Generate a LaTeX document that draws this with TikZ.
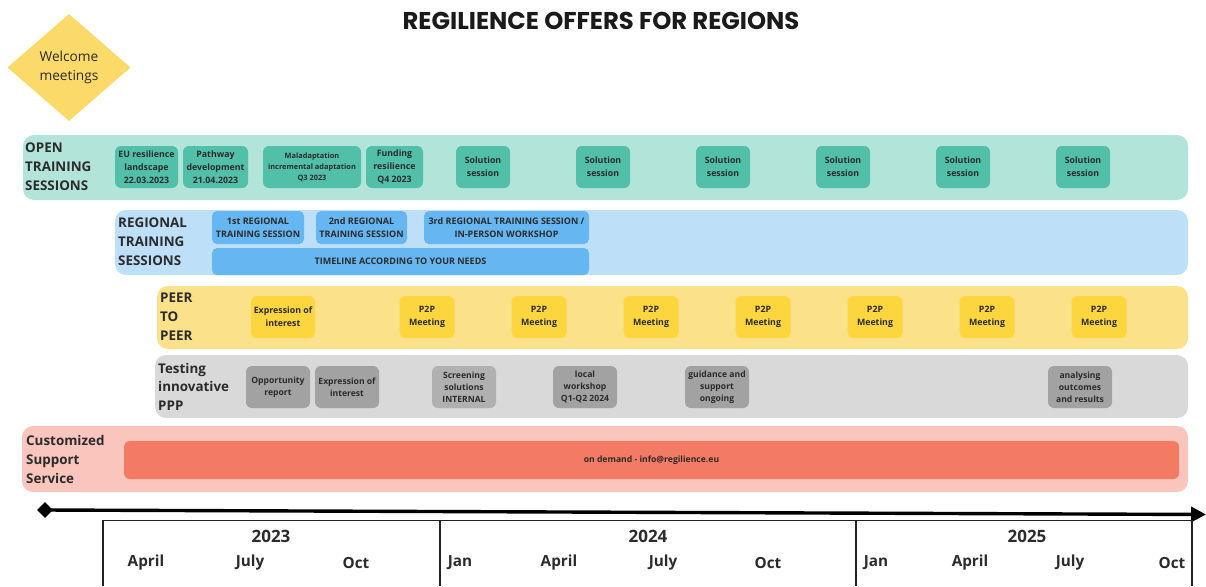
\documentclass[tikz,border=0pt]{standalone}
\usepackage{fontspec}
\setmainfont{Open Sans}
\newfontfamily\titlefont{Poppins}
\usetikzlibrary{shapes.geometric,arrows.meta}
\definecolor{txt}{HTML}{2B2B2B}
\definecolor{openband}{HTML}{B3E4D9}
\definecolor{openbox}{HTML}{52BFA8}
\definecolor{regband}{HTML}{BDE0F8}
\definecolor{regbox}{HTML}{66B6F1}
\definecolor{peerband}{HTML}{FBE28A}
\definecolor{peerbox}{HTML}{FCD53F}
\definecolor{testband}{HTML}{D9D9D9}
\definecolor{testbox}{HTML}{A2A2A2}
\definecolor{custband}{HTML}{F9C5BC}
\definecolor{custbar}{HTML}{F47B63}
\definecolor{welcome}{HTML}{FCDA6A}
\begin{document}
\begin{tikzpicture}[x=1pt,y=-1pt,
  band/.style={rounded corners=11pt, inner sep=0pt, draw=none},
  tbox/.style={rounded corners=6pt, inner sep=0pt, align=center, text=txt,
    font=\bfseries\fontsize{8.8}{13}\selectfont, minimum height=42pt},
  rowlabel/.style={anchor=west, align=left, inner sep=0pt, text=txt,
    font=\bfseries\fontsize{13.4}{19}\selectfont},
  month/.style={text=txt, inner sep=0pt, font=\bfseries\fontsize{15.3}{18}\selectfont},
  year/.style={text=txt, inner sep=0pt, font=\bfseries\fontsize{17}{20}\selectfont},
  tl/.style={line width=1.8pt, draw=txt!80!black}
]
\useasboundingbox (0,0) rectangle (1206,586);
% title
\node[text=txt!60!black, font=\titlefont\bfseries\fontsize{24.3}{28}\selectfont] (title) at (601,21) {REGILIENCE OFFERS FOR REGIONS};
% welcome diamond
\node[diamond, fill=welcome, inner sep=0pt, minimum width=123pt, minimum height=107pt, align=center,
  text=txt, font=\fontsize{13.7}{19}\selectfont] (welcome) at (69,67.5) {Welcome\\meetings};

% OPEN TRAINING SESSIONS
\node[band, fill=openband, minimum width=1165pt, minimum height=65pt] (open) at (605.5,167.5) {};
\node[rowlabel] (openlbl) at (25,167) {OPEN\\TRAINING\\SESSIONS};
\node[tbox, fill=openbox, minimum width=63pt] (eu) at (146.5,167) {EU resilience\\landscape\\22.03.2023};
\node[tbox, fill=openbox, minimum width=65pt] (path) at (215.5,167) {Pathway\\development\\21.04.2023};
\node[tbox, fill=openbox, minimum width=98pt, font=\bfseries\fontsize{7.4}{11}\selectfont] (mal) at (312,167) {Maladaptation\\incremental adaptation\\Q3 2023};
\node[tbox, fill=openbox, minimum width=57pt] (fund) at (394.5,167) {Funding\\resilience\\Q4 2023};
\foreach \cx [count=\i] in {483,603,723,843,963,1083}
  \node[tbox, fill=openbox, minimum width=54pt] (sol\i) at (\cx,167) {Solution\\session};

% REGIONAL TRAINING SESSIONS
\node[band, fill=regband, minimum width=1073pt, minimum height=65pt] (reg) at (651.5,242.5) {};
\node[rowlabel] (reglbl) at (118,242) {REGIONAL\\TRAINING\\SESSIONS};
\tikzset{rbox/.style={tbox, fill=regbox, minimum height=33pt, rounded corners=5pt, font=\bfseries\fontsize{9}{13}\selectfont}}
\node[rbox, minimum width=92pt] (r1) at (258,227.5) {1st REGIONAL\\TRAINING SESSION};
\node[rbox, minimum width=91pt] (r2) at (361.5,227.5) {2nd REGIONAL\\TRAINING SESSION};
\node[rbox, minimum width=165pt] (r3) at (506.5,227.5) {3rd REGIONAL TRAINING SESSION /\\IN-PERSON WORKSHOP};
\node[rbox, minimum width=377pt, minimum height=27pt] (rtime) at (400.5,261.5) {TIMELINE ACCORDING TO YOUR NEEDS};

% PEER TO PEER
\node[band, fill=peerband, minimum width=1031pt, minimum height=63pt] (peer) at (672.5,317.5) {};
\node[rowlabel] (peerlbl) at (160,317) {PEER\\TO\\PEER};
\node[tbox, fill=peerbox, minimum width=64pt] (peoi) at (283,317) {Expression of\\interest};
\foreach \k in {0,...,6}
  \node[tbox, fill=peerbox, minimum width=55pt] (p2p\k) at (427+112*\k,317) {P2P\\Meeting};

% Testing innovative PPP
\node[band, fill=testband, minimum width=1033pt, minimum height=63pt] (test) at (671.5,386.5) {};
\node[rowlabel, font=\bfseries\fontsize{13.4}{18.5}\selectfont] (testlbl) at (158,386.5) {Testing\\innovative\\PPP};
\tikzset{gbox/.style={tbox, fill=testbox, minimum width=64pt, font=\bfseries\fontsize{8.6}{12}\selectfont}}
\node[gbox] (opp) at (278,387) {Opportunity\\report};
\node[gbox] (teoi) at (347,387) {Expression of\\interest};
\node[gbox, fill=testbox!85!white] (scr) at (464,387) {Screening\\solutions\\INTERNAL};
\node[gbox] (loc) at (585,387) {local\\workshop\\Q1-Q2 2024};
\node[gbox] (gui) at (717,387) {guidance and\\support\\ongoing};
\node[gbox] (ana) at (1080,387) {analysing\\outcomes\\and results};

% Customized Support Service
\node[band, fill=custband, minimum width=1166pt, minimum height=66pt] (cust) at (605,459) {};
\node[rowlabel] (custlbl) at (26,459) {Customized\\Support\\Service};
\node[tbox, fill=custbar, minimum width=1055pt, minimum height=38pt, font=\bfseries\fontsize{8.6}{10}\selectfont] (demand) at (651.5,460) {on demand - info@regilience.eu};

% timeline arrow
\node[diamond, fill=black, inner sep=0pt, minimum width=16pt, minimum height=16pt] (tstart) at (45,510) {};
\coordinate (tend) at (1206,514.5);
\draw[line width=3.4pt, -{Triangle[length=15pt,width=15pt]}] (tstart.center) -- (tend);

% year table
\coordinate (tl1) at (103,586);
\coordinate (tl2) at (103,520.5);
\coordinate (tl3) at (1192,520.5);
\coordinate (tl4) at (1192,586);
\draw[tl] (tl1) -- (tl2) -- (tl3) -- (tl4);
\coordinate (d1t) at (440,520.5); \coordinate (d1b) at (440,586);
\coordinate (d2t) at (856,520.5); \coordinate (d2b) at (856,586);
\draw[tl, line width=2.6pt] (d1t) -- (d1b);
\draw[tl, line width=2.6pt] (d2t) -- (d2b);
\node[year] (y23) at (271,536) {2023};
\node[year] (y24) at (648,536) {2024};
\node[year] (y25) at (1027,536) {2025};
\node[month] (m1) at (146,563) {April};
\node[month] (m2) at (250,563) {July};
\node[month] (m3) at (356,563) {Oct};
\node[month] (m4) at (460,563) {Jan};
\node[month] (m5) at (559,563) {April};
\node[month] (m6) at (663,563) {July};
\node[month] (m7) at (768,563) {Oct};
\node[month] (m8) at (876,563) {Jan};
\node[month] (m9) at (970,563) {April};
\node[month] (m10) at (1070,563) {July};
\node[month] (m11) at (1172,563) {Oct};
\end{tikzpicture}
\end{document}
